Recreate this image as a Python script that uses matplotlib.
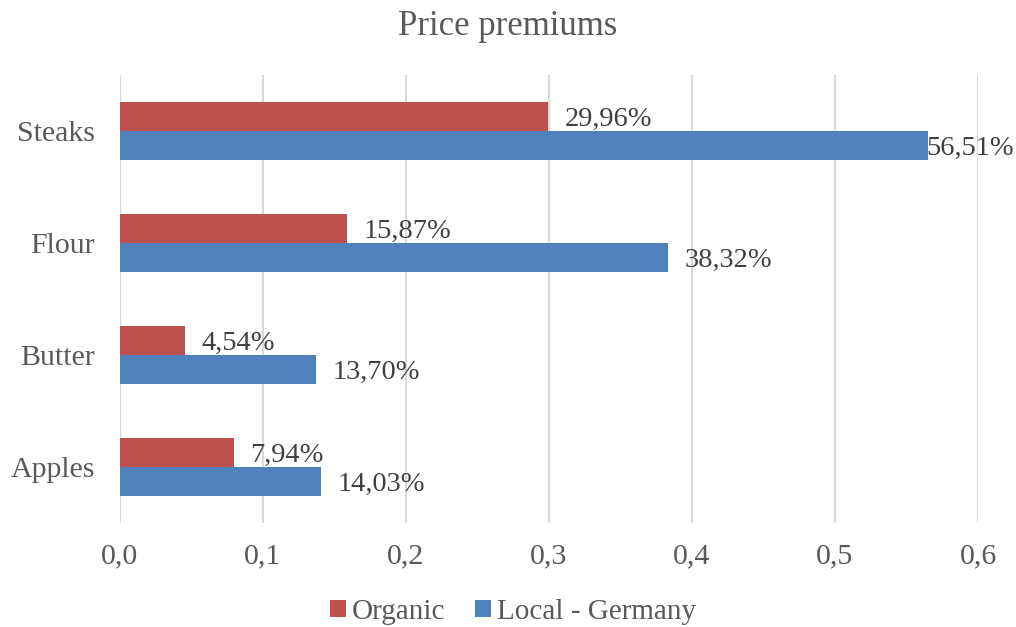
import matplotlib.pyplot as plt
import numpy as np

plt.rcParams['font.family'] = ['Liberation Serif', 'DejaVu Serif']

categories = ['Apples', 'Butter', 'Flour', 'Steaks']
organic = [0.0794, 0.0454, 0.1587, 0.2996]
local = [0.1403, 0.1370, 0.3832, 0.5651]
ticks = [0.0, 0.1, 0.2, 0.3, 0.4, 0.5, 0.6]

red = '#C0504D'
blue = '#4F81BD'
grey = '#595959'

fig = plt.figure(figsize=(10.16, 6.27), dpi=100)
ax = fig.add_axes([0.1181, 0.1659, 0.8445, 0.7145])

y = np.arange(len(categories))
h = 0.26
b1 = ax.barh(y + h / 2, organic, h, color=red, label='Organic')
b2 = ax.barh(y - h / 2, local, h, color=blue, label='Local - Germany')


def pct(v):
    return f'{v * 100:.2f}%'.replace('.', ',')


for bars, vals in ((b1, organic), (b2, local)):
    for bar, v in zip(bars, vals):
        off = -1 if v > 0.55 else 12
        ax.annotate(pct(v), (v, bar.get_y() + bar.get_height() / 2),
                    xytext=(off, -2), textcoords='offset points',
                    ha='left', va='center', fontsize=20.5, color='#404040')

ax.set_xlim(0, 0.6)
ax.set_ylim(-0.5, 3.5)
ax.set_xticks(ticks)
ax.set_xticklabels([f'{t:.1f}'.replace('.', ',') for t in ticks])
ax.set_yticks(y)
ax.set_yticklabels(categories)
ax.tick_params(axis='both', length=0, labelsize=21.5, colors=grey)
ax.tick_params(axis='x', pad=15)
ax.tick_params(axis='y', pad=18)
for s in ax.spines.values():
    s.set_visible(False)
ax.grid(axis='x', color='#D9D9D9', linewidth=1.5)
ax.set_axisbelow(True)

fig.text(0.5, 0.957, 'Price premiums', ha='center', va='center',
         fontsize=25, color=grey)
fig.legend(loc='center', bbox_to_anchor=(0.505, 0.024), ncol=2, frameon=False,
           fontsize=21, labelcolor=grey, handlelength=0.55, handleheight=0.55,
           handletextpad=0.2, columnspacing=1.0)

fig.savefig('out.png', dpi=100)
